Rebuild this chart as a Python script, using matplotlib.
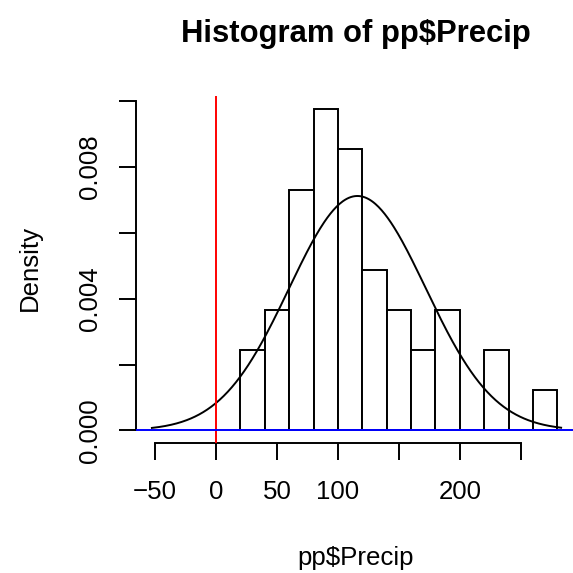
import numpy as np
import matplotlib
matplotlib.use("Agg")
import matplotlib.pyplot as plt

plt.rcParams['font.family'] = ['Liberation Sans', 'DejaVu Sans']

# Histogram data
bin_edges = [20, 40, 60, 80, 100, 120, 140, 160, 180, 200, 220, 240, 260, 280]
counts = [2, 3, 6, 8, 7, 4, 3, 2, 3, 0, 2, 0, 1]
n_obs = 41

# Normal curve parameters
norm_mean = 116.0
norm_sd = 56.0
curve_from, curve_to = -52.5, 283.0

x_ticks = [-50, 0, 50, 100, 150, 200, 250]
x_tick_labels = ['\u221250', '0', '50', '100', '', '200', '']
y_ticks = [0.000, 0.002, 0.004, 0.006, 0.008, 0.010]
y_tick_labels = ['0.000', '', '0.004', '', '0.008', '']

title = "Histogram of pp$Precip"
xlabel = "pp$Precip"
ylabel = "Density"

W = H = 573
dpi = 100
fs = 18.6
lw = 1.4
fig = plt.figure(figsize=(W / dpi, H / dpi), dpi=dpi)
L, R, T, B = 135.7, 576.0, 96.5, 443.3
ax = fig.add_axes([L / W, 1 - B / H, (R - L) / W, (B - T) / H])

edges = np.array(bin_edges, dtype=float)
widths = np.diff(edges)
dens = np.array(counts) / (n_obs * widths)
ax.bar(edges[:-1], dens, width=widths, align='edge', facecolor='white',
       edgecolor='black', linewidth=lw, zorder=2)

xs = np.linspace(curve_from, curve_to, 400)
ys = np.exp(-0.5 * ((xs - norm_mean) / norm_sd) ** 2) / (norm_sd * np.sqrt(2 * np.pi))
ax.plot(xs, ys, color='black', linewidth=lw, zorder=3)

ax.axvline(0, color='red', linewidth=lw, zorder=4)
ax.axhline(0, color='blue', linewidth=lw, zorder=4)

ax.set_xlim(-65.8, 295.2)
ymax = dens.max()
ax.set_ylim(-0.04 * ymax, 1.04 * ymax)

for s in ['top', 'right']:
    ax.spines[s].set_visible(False)
ax.spines['bottom'].set_bounds(-50, 250)
ax.spines['left'].set_bounds(0, 0.010)
for s in ['bottom', 'left']:
    ax.spines[s].set_linewidth(lw)

ax.set_xticks(x_ticks)
ax.set_xticklabels(x_tick_labels)
ax.set_yticks(y_ticks)
ax.set_yticklabels(y_tick_labels, rotation=90, va='center')
ax.tick_params(axis='both', direction='out', length=11.9, width=lw, labelsize=fs)
ax.tick_params(axis='x', pad=14.5)
ax.tick_params(axis='y', pad=12.5)

fig.text(356 / W, 1 - 42 / H, title, ha='center', va='baseline',
         fontsize=fs * 1.2, fontweight='bold')
fig.text(356 / W, 1 - 565 / H, xlabel, ha='center', va='baseline', fontsize=fs)
fig.text(36.7 / W, 1 - 268 / H, ylabel, ha='center', va='baseline', rotation=90,
         fontsize=fs, rotation_mode='anchor')

fig.savefig("out.png", dpi=dpi)
